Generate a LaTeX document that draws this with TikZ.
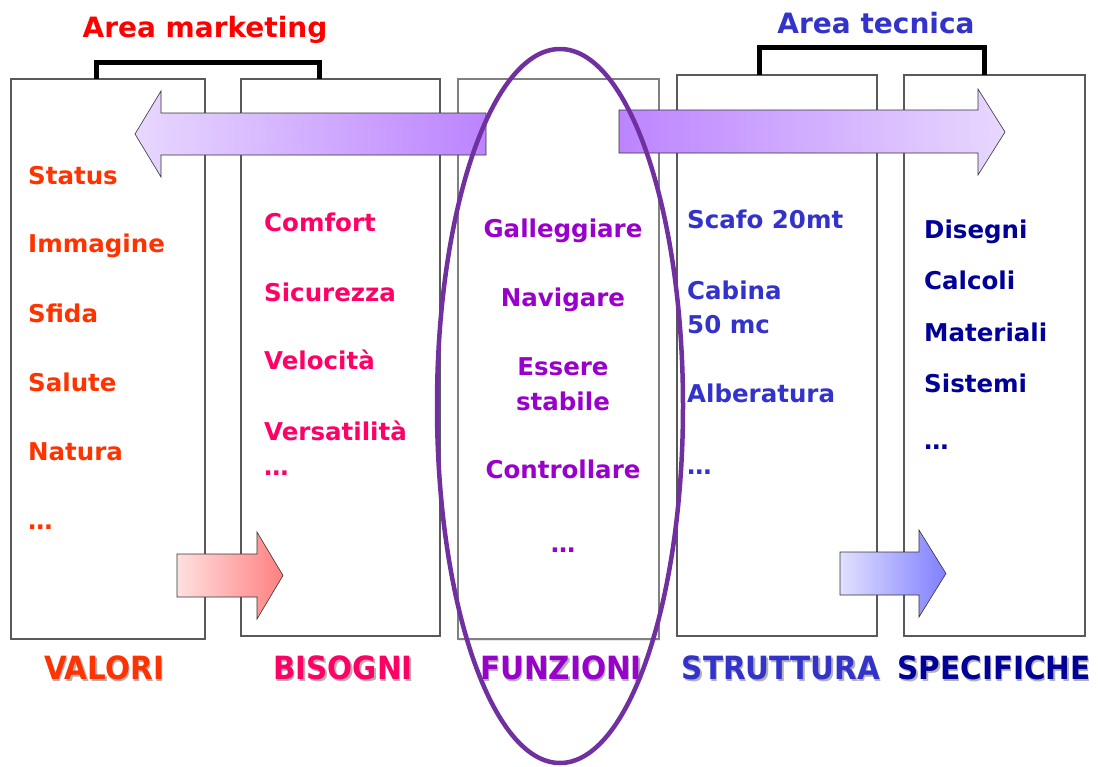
\documentclass[tikz,border=0pt]{standalone}
\usepackage{fontspec}
\setmainfont{DejaVu Sans}
\usepackage{xcolor}
\usetikzlibrary{shadows}
\definecolor{valcol}{HTML}{FF3300}
\definecolor{biscol}{HTML}{FF0066}
\definecolor{funcol}{HTML}{9900CC}
\definecolor{strcol}{HTML}{3333CC}
\definecolor{specol}{HTML}{000099}
\definecolor{mktcol}{HTML}{FF0000}
\definecolor{boxgray}{HTML}{595959}
\definecolor{ellcol}{HTML}{7030A0}
\definecolor{lilac}{HTML}{E8D8FF}
\definecolor{lilacdark}{HTML}{BC84FF}
\tikzset{
  colbox/.style={draw=boxgray,line width=1.2pt,fill=white},
  parentesi/.style={line width=5pt},
  freccia/.style={draw=black!80,line width=.6pt},
  voce/.style={font=\fontsize{24.5}{28}\selectfont\bfseries,inner sep=0pt,anchor=base west},
  vocec/.style={voce,anchor=base},
  area/.style={font=\fontsize{28}{32}\selectfont\bfseries,inner sep=0pt},
  titolo/.style={font=\fontsize{32}{36}\selectfont\bfseries,inner sep=0pt}
}
\newcommand{\stretto}[1]{\scalebox{.92}[1]{#1}}
\begin{document}
\begin{tikzpicture}[x=1pt,y=-1pt]
        \useasboundingbox (0,0) rectangle (1098,766);
        % colonne
        \draw[colbox] (11,79) rectangle (205,639);
        \draw[colbox] (241,79) rectangle (440,636);
        \draw[colbox,draw=gray,drop shadow={opacity=.18,shadow xshift=1pt,shadow yshift=-2pt}] (458,79) rectangle (659,639);
        \draw[colbox] (677,75) rectangle (877,636);
        \draw[colbox] (904,75) rectangle (1085,636);
        % aree
        \draw[parentesi] (96,79) -- (96,62.5) -- (319,62.5) -- (319,79);
        \draw[parentesi] (759,75) -- (759,47) -- (984,47) -- (984,75);
        \node[area,text=mktcol] (mkt) at (205,30) {Area marketing};
        \node[area,text=strcol] (tec) at (876,23) {Area tecnica};
        % frecce
        \draw[freccia,left color=lilac,right color=lilacdark]
          (486,113) -- (161,113) -- (161,91) -- (135,134) -- (161,177) -- (161,155) -- (486,155) -- cycle;
        \draw[freccia,left color=lilacdark,right color=lilac]
          (619,110) -- (978,110) -- (978,89) -- (1005,132) -- (978,175) -- (978,153) -- (619,153) -- cycle;
        \draw[freccia,left color=red!12,right color=red!50]
          (177,554) -- (257,554) -- (257,532) -- (283,575.5) -- (257,619) -- (257,597) -- (177,597) -- cycle;
        \draw[freccia,left color=blue!12,right color=blue!50]
          (840,552) -- (919,552) -- (919,530) -- (946,573.5) -- (919,617) -- (919,595) -- (840,595) -- cycle;
        % valori
        \node[voce,text=valcol] (status) at (28,184) {Status};
        \node[voce,text=valcol] (immagine) at (28,252) {Immagine};
        \node[voce,text=valcol] (sfida) at (28,322) {Sfida};
        \node[voce,text=valcol] (salute) at (28,391) {Salute};
        \node[voce,text=valcol] (natura) at (28,460) {Natura};
        \node[voce,text=valcol] (valdots) at (28,529) {\dots};
        % bisogni
        \node[voce,text=biscol] (comfort) at (264,231) {Comfort};
        \node[voce,text=biscol] (sicurezza) at (264,301) {Sicurezza};
        \node[voce,text=biscol] (velocita) at (264,369) {Velocità};
        \node[voce,text=biscol] (versat) at (264,440) {Versatilità};
        \node[voce,text=biscol] (bisdots) at (264,475) {\dots};
        % funzioni
        \node[vocec,text=funcol] (gallegg) at (563,237) {Galleggiare};
        \node[vocec,text=funcol] (navigare) at (563,306) {Navigare};
        \node[vocec,text=funcol] (essere) at (563,375) {Essere};
        \node[vocec,text=funcol] (stabile) at (563,410) {stabile};
        \node[vocec,text=funcol] (control) at (563,478) {Controllare};
        \node[vocec,text=funcol] (fundots) at (563,552) {\dots};
        % struttura
        \node[voce,text=strcol] (scafo) at (687,228) {Scafo 20mt};
        \node[voce,text=strcol] (cabina) at (687,299) {Cabina};
        \node[voce,text=strcol] (cabmc) at (687,333) {50 mc};
        \node[voce,text=strcol] (alber) at (687,402) {Alberatura};
        \node[voce,text=strcol] (strdots) at (687,474) {\dots};
        % specifiche
        \node[voce,text=specol] (disegni) at (924,238) {Disegni};
        \node[voce,text=specol] (calcoli) at (924,289) {Calcoli};
        \node[voce,text=specol] (material) at (924,341) {Materiali};
        \node[voce,text=specol] (sistemi) at (924,392) {Sistemi};
        \node[voce,text=specol] (spedots) at (924,449) {\dots};
        % titoli con ombra
        \foreach \x/\t/\c/\n in {104/VALORI/valcol/tv,343/BISOGNI/biscol/tb,561/FUNZIONI/funcol/tf,781/STRUTTURA/strcol/ts,994/SPECIFICHE/specol/tsp} {
          \node[titolo,text=black!30] at (\x+1.5,670) {\stretto{\t}};
          \node[titolo,text=\c] (\n) at (\x,668) {\stretto{\t}};
        }
        % ellisse
        \draw[ellcol,line width=4.5pt] (560,406) ellipse [x radius=123,y radius=357];
      \end{tikzpicture}
\end{document}
